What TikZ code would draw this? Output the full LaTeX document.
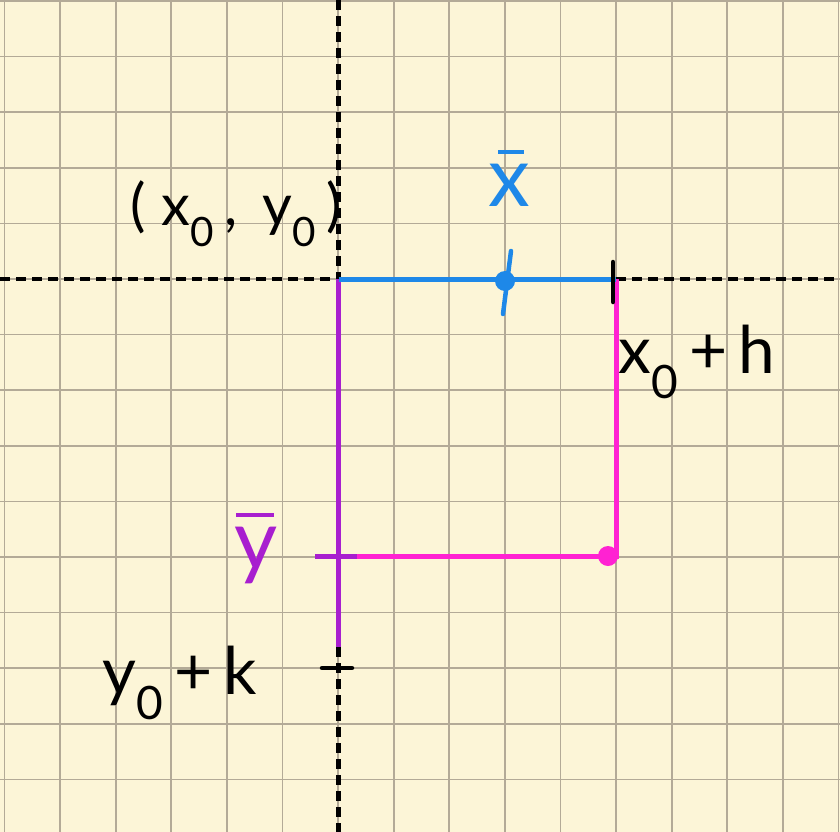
\documentclass[tikz,border=0pt]{standalone}
\usepackage{fontspec}
\setmainfont{Lato}
\definecolor{paper}{HTML}{FCF5D7}
\definecolor{gridc}{HTML}{B3AA97}
\definecolor{blueln}{HTML}{1E88E8}
\definecolor{pinkln}{HTML}{FF22D2}
\definecolor{purpln}{HTML}{A81ECF}
\newcommand{\barred}[4]{\rlap{\hspace*{#2}\raisebox{#3}{\rule{#4}{4.5bp}}}#1}
\begin{document}
\begin{tikzpicture}[x=1bp,y=-1bp,
  gridline/.style={draw=gridc,line width=1.7bp},
  axisline/.style={draw=black,line width=4.5bp,dash pattern=on 10bp off 6bp},
  seg/.style={line width=5bp},
  tickline/.style={line width=4.5bp,line cap=round},
  lbl/.style={inner sep=0pt,font=\fontsize{58}{62}\selectfont},
  biglbl/.style={inner sep=0pt,font=\fontsize{66}{70}\selectfont},
  barlbl/.style={inner sep=0pt,font=\fontsize{84}{90}\selectfont}]
\useasboundingbox (0,0) rectangle (840,832);
\fill[paper] (0,0) rectangle (840,832);
\foreach \i in {0,...,15} {\draw[gridline] ({4.5+55.6*\i},0) -- ({4.5+55.6*\i},832);}
\foreach \j in {0,...,15} {\draw[gridline] (0,{1+55.6*\j}) -- (840,{1+55.6*\j});}
% points
\coordinate (O) at (338.5,279);
\coordinate (H) at (616,279);
\coordinate (C) at (616,556);
\coordinate (Ys) at (357,556);
\coordinate (Yt) at (315,556);
\coordinate (Kend) at (338.5,647);
\coordinate (axL) at (0,279);
\coordinate (axR) at (840,279);
\coordinate (axT) at (338.5,0);
\coordinate (axB) at (338.5,832);
\coordinate (Xb) at (505,281);
\coordinate (XbT) at (511,251);
\coordinate (XbB) at (503,314);
\coordinate (HtT) at (613,262);
\coordinate (HtB) at (613,302);
\coordinate (KtL) at (322,668);
\coordinate (KtR) at (352,668);
\coordinate (Cb) at (608,556);
% axes
\draw[axisline] (axL) -- (O);
\draw[axisline] (H) -- (axR);
\draw[axisline] (axT) -- (O);
\draw[axisline] (Kend) -- (axB);
% coloured segments
\draw[seg,pinkln] (H) -- (C) -- (Ys);
\draw[seg,purpln] (Ys) -- (Yt);
\draw[seg,purpln] (O) -- (Kend);
\draw[seg,blueln] (O) -- (H);
\fill[blueln] (Xb) circle (10);
\draw[tickline,blueln] (XbT) -- (XbB);
\fill[pinkln] (Cb) circle (10);
\draw[tickline,black] (HtT) -- (HtB);
\draw[tickline,black] (KtL) -- (KtR);
% labels
\node[lbl] (p0) at (236,214) {(\;x\textsubscript{0}\,,\;\,y\textsubscript{0}\,)};
\node[barlbl,blueln] (xbar) at (509,178) {\barred{x}{10bp}{52bp}{26bp}};
\node[biglbl] (xh) at (697,362) {x\textsubscript{0}\,+\,h};
\node[barlbl,purpln] (ybar) at (256,548) {\barred{y}{2bp}{52bp}{38bp}};
\node[biglbl] (yk) at (180,683) {y\textsubscript{0}\,+\,k};
\end{tikzpicture}
\end{document}
